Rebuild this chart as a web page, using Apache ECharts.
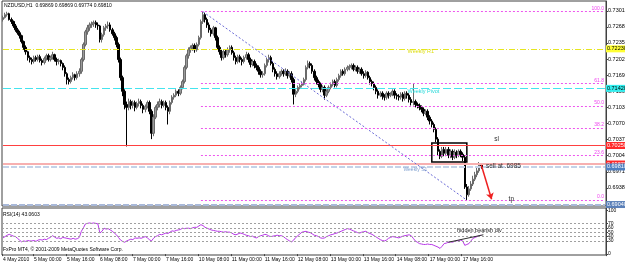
<!DOCTYPE html>
<html>
<head>
<meta charset="utf-8">
<script src="https://cdn.jsdelivr.net/npm/echarts@6/dist/echarts.min.js"></script>
<style>
html, body { margin: 0; padding: 0; background: #fff; }
#chart { width: 625px; height: 266px; }
</style>
</head>
<body>
<div id="chart"></div>
<script>
// NZDUSD H1, 4 May 2010 09:00 .. 18 May 2010 01:00
var symbolName = 'NZDUSD,H1';
var quote = [0.69869, 0.69869, 0.69774, 0.69810];   // O H L C of the last bar
var firstOpen = 0.7283;

var closes = [
    0.7287,0.7293,0.7295,0.7283,0.7279,0.7270,0.7262,0.7256,0.7250,0.7238,
    0.7226,0.7217,0.7205,0.7201,0.7197,0.7205,0.7201,0.7207,0.7199,0.7195,
    0.7203,0.7209,0.7201,0.7205,0.7211,0.7201,0.7197,0.7199,0.7193,0.7185,
    0.7172,0.7160,0.7156,0.7164,0.7170,0.7164,0.7172,0.7177,0.7201,0.7232,
    0.7258,0.7266,0.7272,0.7274,0.7277,0.7272,0.7270,0.7242,0.7252,0.7266,
    0.7270,0.7272,0.7262,0.7254,0.7246,0.7232,0.7201,0.7164,0.7136,0.7109,
    0.7103,0.7115,0.7107,0.7113,0.7103,0.7111,0.7115,0.7107,0.7099,0.7105,
    0.7113,0.7095,0.7050,0.7083,0.7103,0.7109,0.7115,0.7107,0.7113,0.7103,
    0.7095,0.7113,0.7124,0.7128,0.7136,0.7132,0.7144,0.7156,0.7185,0.7209,
    0.7221,0.7226,0.7230,0.7221,0.7232,0.7246,0.7279,0.7293,0.7283,0.7272,
    0.7262,0.7254,0.7266,0.7246,0.7226,0.7217,0.7205,0.7217,0.7211,0.7221,
    0.7226,0.7215,0.7205,0.7197,0.7207,0.7201,0.7197,0.7205,0.7211,0.7201,
    0.7191,0.7197,0.7189,0.7185,0.7177,0.7170,0.7172,0.7189,0.7201,0.7205,
    0.7193,0.7181,0.7172,0.7166,0.7172,0.7177,0.7172,0.7177,0.7168,0.7172,
    0.7160,0.7130,0.7136,0.7144,0.7148,0.7152,0.7160,0.7185,0.7193,0.7189,
    0.7177,0.7164,0.7156,0.7150,0.7140,0.7144,0.7128,0.7136,0.7144,0.7150,
    0.7156,0.7148,0.7160,0.7168,0.7177,0.7172,0.7181,0.7185,0.7187,0.7189,
    0.7181,0.7185,0.7177,0.7181,0.7172,0.7168,0.7175,0.7164,0.7156,0.7152,
    0.7144,0.7136,0.7128,0.7132,0.7126,0.7124,0.7132,0.7128,0.7130,0.7136,
    0.7128,0.7126,0.7124,0.7130,0.7121,0.7132,0.7128,0.7119,0.7113,0.7115,
    0.7109,0.7107,0.7103,0.7099,0.7091,0.7095,0.7083,0.7075,0.7068,0.7058,
    0.7038,0.7013,0.7003,0.7017,0.7009,0.7017,0.7005,0.7013,0.7001,0.7011,
    0.7005,0.7013,0.7007,0.7001,0.6940,0.6924,0.6936,0.6946,0.6956,0.6965,
    0.6973,0.6987,0.6981
];
var highs = [
    0.7291,0.7297,0.7299,0.7297,0.7287,0.7281,0.7274,0.7266,0.7260,0.7252,
    0.7240,0.7230,0.7219,0.7209,0.7205,0.7209,0.7209,0.7211,0.7211,0.7203,
    0.7207,0.7213,0.7213,0.7209,0.7217,0.7213,0.7205,0.7203,0.7201,0.7195,
    0.7189,0.7175,0.7164,0.7168,0.7175,0.7172,0.7177,0.7183,0.7205,0.7236,
    0.7262,0.7272,0.7277,0.7279,0.7281,0.7281,0.7277,0.7272,0.7256,0.7270,
    0.7274,0.7279,0.7277,0.7266,0.7258,0.7250,0.7236,0.7205,0.7168,0.7140,
    0.7115,0.7121,0.7119,0.7117,0.7117,0.7115,0.7121,0.7119,0.7111,0.7109,
    0.7117,0.7117,0.7099,0.7089,0.7107,0.7115,0.7121,0.7119,0.7117,0.7117,
    0.7107,0.7117,0.7128,0.7132,0.7140,0.7140,0.7148,0.7160,0.7189,0.7213,
    0.7226,0.7230,0.7234,0.7234,0.7236,0.7250,0.7283,0.7299,0.7297,0.7287,
    0.7277,0.7266,0.7270,0.7268,0.7250,0.7230,0.7221,0.7221,0.7221,0.7226,
    0.7230,0.7230,0.7219,0.7209,0.7211,0.7211,0.7205,0.7209,0.7217,0.7215,
    0.7205,0.7201,0.7201,0.7193,0.7189,0.7181,0.7177,0.7193,0.7205,0.7211,
    0.7209,0.7197,0.7185,0.7177,0.7177,0.7181,0.7181,0.7183,0.7181,0.7177,
    0.7177,0.7164,0.7140,0.7148,0.7152,0.7156,0.7164,0.7189,0.7199,0.7197,
    0.7193,0.7181,0.7168,0.7160,0.7154,0.7148,0.7148,0.7140,0.7148,0.7154,
    0.7160,0.7160,0.7164,0.7172,0.7181,0.7181,0.7185,0.7189,0.7191,0.7193,
    0.7193,0.7189,0.7189,0.7185,0.7185,0.7177,0.7179,0.7177,0.7168,0.7160,
    0.7156,0.7148,0.7140,0.7136,0.7136,0.7130,0.7136,0.7136,0.7134,0.7140,
    0.7140,0.7132,0.7130,0.7134,0.7134,0.7136,0.7136,0.7132,0.7124,0.7152,
    0.7119,0.7113,0.7111,0.7107,0.7103,0.7099,0.7099,0.7087,0.7079,0.7072,
    0.7062,0.7042,0.7017,0.7022,0.7022,0.7022,0.7022,0.7017,0.7017,0.7017,
    0.7015,0.7017,0.7017,0.7011,0.7005,0.6946,0.6942,0.6952,0.6963,0.6971,
    0.6979,0.6991,0.6987
];
var lows = [
    0.7279,0.7285,0.7289,0.7281,0.7274,0.7266,0.7258,0.7252,0.7244,0.7234,
    0.7221,0.7211,0.7199,0.7195,0.7191,0.7193,0.7197,0.7197,0.7195,0.7189,
    0.7191,0.7199,0.7197,0.7197,0.7201,0.7197,0.7189,0.7191,0.7187,0.7179,
    0.7166,0.7150,0.7150,0.7152,0.7160,0.7158,0.7160,0.7166,0.7172,0.7197,
    0.7228,0.7252,0.7260,0.7266,0.7268,0.7266,0.7262,0.7236,0.7236,0.7248,
    0.7260,0.7264,0.7258,0.7250,0.7240,0.7226,0.7195,0.7158,0.7126,0.7099,
    0.7023,0.7097,0.7099,0.7101,0.7095,0.7099,0.7105,0.7101,0.7091,0.7093,
    0.7101,0.7089,0.7038,0.7044,0.7079,0.7097,0.7103,0.7101,0.7103,0.7097,
    0.7068,0.7089,0.7109,0.7119,0.7124,0.7126,0.7128,0.7140,0.7152,0.7181,
    0.7203,0.7215,0.7219,0.7215,0.7217,0.7228,0.7242,0.7274,0.7277,0.7266,
    0.7256,0.7248,0.7250,0.7240,0.7221,0.7211,0.7199,0.7201,0.7205,0.7207,
    0.7215,0.7211,0.7199,0.7191,0.7193,0.7195,0.7189,0.7193,0.7201,0.7195,
    0.7185,0.7187,0.7183,0.7179,0.7170,0.7164,0.7164,0.7168,0.7185,0.7195,
    0.7189,0.7175,0.7166,0.7160,0.7162,0.7168,0.7166,0.7168,0.7162,0.7164,
    0.7154,0.7109,0.7124,0.7132,0.7140,0.7144,0.7148,0.7156,0.7181,0.7183,
    0.7172,0.7158,0.7150,0.7144,0.7134,0.7134,0.7119,0.7124,0.7132,0.7140,
    0.7146,0.7144,0.7144,0.7156,0.7164,0.7168,0.7168,0.7177,0.7179,0.7181,
    0.7177,0.7177,0.7172,0.7172,0.7168,0.7162,0.7164,0.7160,0.7150,0.7146,
    0.7138,0.7130,0.7121,0.7124,0.7119,0.7117,0.7119,0.7121,0.7124,0.7126,
    0.7121,0.7119,0.7117,0.7119,0.7115,0.7117,0.7121,0.7113,0.7107,0.7107,
    0.7103,0.7101,0.7097,0.7093,0.7085,0.7087,0.7077,0.7068,0.7062,0.7052,
    0.7032,0.7005,0.6997,0.6999,0.7003,0.7003,0.6999,0.6999,0.6995,0.6997,
    0.6999,0.7001,0.7001,0.6993,0.6936,0.6913,0.6920,0.6932,0.6942,0.6952,
    0.6960,0.6969,0.6977
];

// RSI(14), one value per bar
var rsiReading = 43.0603;
var rsi = [
    37,40,43,45,43,41,40,36,32,28,
    30,29,31,30,30,31,29,32,33,32,
    34,33,36,38,42,39,36,37,35,38,
    37,36,35,34,36,34,35,38,52,60,
    69,70,71,70,71,70,69,48,52,59,
    57,58,55,52,48,44,38,32,29,27,
    30,32,34,33,37,36,37,36,38,40,
    37,33,30,36,40,42,45,44,46,48,
    47,50,53,52,54,55,56,59,58,59,
    59,58,60,61,61,64,67,65,61,59,
    57,55,54,53,52,52,51,50,51,50,
    50,48,45,44,46,48,47,45,43,42,
    40,41,38,37,40,42,43,45,44,41,
    40,41,42,43,42,42,40,36,33,30,
    28,32,38,42,46,50,51,52,50,49,
    46,43,42,40,37,36,37,40,42,44,
    45,47,48,50,52,54,56,58,57,55,
    53,51,49,48,50,51,52,49,47,45,
    42,39,36,33,31,30,32,36,38,40,
    39,38,37,39,41,42,43,44,42,36,
    30,27,24,23,22,22,23,22,22,20,
    18,16,13,18,24,25,27,28,27,29,
    30,31,32,30,20,22,24,30,36,38,
    40,42,43
];

// axis tick labels
var priceTicks = [0.6905, 0.6938, 0.6971, 0.7004, 0.7037, 0.7070, 0.7103,
                  0.7136, 0.7169, 0.7202, 0.7235, 0.7268, 0.7301];
var rsiTicks = [0, 30, 40, 50, 60, 70, 100];
var rsiLevels = [30, 40, 50, 60, 70];
var dateTicks = ['4 May 2010', '5 May 00:00', '5 May 16:00', '6 May 08:00', '7 May 00:00',
                 '7 May 16:00', '10 May 08:00', '11 May 00:00', '11 May 16:00', '12 May 08:00',
                 '13 May 00:00', '13 May 16:00', '14 May 08:00', '17 May 00:00', '17 May 16:00'];
var firstTickBar = 15, tickStep = 16, emptyBarsRight = 60;

// drawn objects
var fibHigh = 0.7299, fibLow = 0.6913, fibFromBar = 96, fibToBar = 225;
var fibLevels = [0, 23.6, 38.2, 50, 61.8, 100];
var weeklyR1 = 0.7223, weeklyPivot = 0.7142, weeklyS1 = 0.6981, weeklyS2 = 0.6904;
var stopLoss = 0.7025, sellAt = 0.6987;
var boxBars = [208, 225], boxPrices = [0.7030, 0.6991];
var arrowBars = [232, 237], arrowPrices = [0.6985, 0.6915];
var divBars = [216, 233], divRsi = [27, 44];

var FONT = 'Liberation Sans';
</script>
<script>
(function () {
    "use strict";

    var nBars = closes.length;
    var nSlots = nBars + emptyBarsRight;

    var candles = [];
    for (var i = 0; i < nBars; i++) {
        var open = i === 0 ? firstOpen : closes[i - 1];
        candles.push([open, closes[i], lows[i], highs[i]]);
    }
    candles[nBars - 1] = [quote[0], quote[3], quote[2], quote[1]];

    var cats = [];
    for (i = 0; i < nSlots; i++) cats.push(String(i));
    var tickAt = {};
    tickAt[0] = dateTicks[0];
    for (var k = 1; k < dateTicks.length; k++) {
        tickAt[firstTickBar + (k - 1) * tickStep] = dateTicks[k];
    }
    function hasTick(index) { return tickAt[index] !== undefined; }

    // horizontal lines across the whole chart, with their price box on the axis
    function hLine(price, color, type, width, boxColor, boxText) {
        return [{
            coord: [0, price],
            lineStyle: { color: color, type: type, width: width },
            label: {
                show: true, position: 'end', distance: 1,
                formatter: price.toFixed(5),
                fontSize: 5.5, fontFamily: FONT, color: boxText,
                backgroundColor: boxColor, padding: [1, 2, 0, 1]
            }
        }, { coord: [nSlots - 1, price] }];
    }

    var fibLines = fibLevels.map(function (lv) {
        var p = fibLow + (fibHigh - fibLow) * lv / 100;
        return [{
            coord: [fibFromBar, p],
            lineStyle: { color: '#ee55ee', type: [2, 2], width: 1 },
            label: {
                show: true, position: 'insideEndTop', distance: 1,
                formatter: lv.toFixed(1),
                fontSize: 5, fontFamily: FONT, color: '#ee44ee'
            }
        }, { coord: [nSlots - 1, p] }];
    });

    function note(bar, price, text, color, size) {
        return {
            coord: [bar, price], symbol: 'circle', symbolSize: 1,
            itemStyle: { color: 'rgba(0,0,0,0)' },
            label: {
                show: true, position: 'right', distance: 0, formatter: text,
                fontSize: size, fontFamily: FONT, color: color
            }
        };
    }

    var chart = echarts.init(document.getElementById('chart'));

    var option = {
        animation: false,
        backgroundColor: '#ffffff',
        textStyle: { fontFamily: FONT },

        grid: [
            { left: 2, right: 19, top: 1, height: 205, show: true, outerBoundsMode: 'none',
              borderColor: '#404040', borderWidth: 1, backgroundColor: '#ffffff' },
            { left: 2, right: 19, top: 208, height: 47, show: true, outerBoundsMode: 'none',
              borderColor: '#404040', borderWidth: 1, backgroundColor: '#ffffff' }
        ],

        xAxis: [
            { type: 'category', gridIndex: 0, data: cats, boundaryGap: true,
              axisLine: { show: false }, axisTick: { show: false },
              axisLabel: { show: false }, splitLine: { show: false } },
            { type: 'category', gridIndex: 1, data: cats, boundaryGap: true,
              axisLine: { show: false },
              axisTick: { show: true, interval: hasTick, length: 2,
                          lineStyle: { color: '#404040' } },
              axisLabel: { show: true, interval: hasTick, align: 'left', margin: 2,
                           fontSize: 5, fontFamily: FONT, color: '#000',
                           formatter: function (v, idx) { return tickAt[idx] || ''; } },
              splitLine: { show: false } }
        ],

        yAxis: [
            { type: 'value', gridIndex: 0, position: 'right', min: 0.6901, max: 0.7321,
              axisLine: { show: true, lineStyle: { color: '#404040' } },
              axisTick: { show: true, length: 2, customValues: priceTicks,
                          lineStyle: { color: '#404040' } },
              axisLabel: { show: true, margin: 2, customValues: priceTicks,
                           fontSize: 5.5, fontFamily: FONT, color: '#000',
                           formatter: function (v) { return v.toFixed(5); } },
              splitLine: { show: false } },
            { type: 'value', gridIndex: 1, position: 'right', min: -2, max: 105,
              axisLine: { show: true, lineStyle: { color: '#404040' } },
              axisTick: { show: true, length: 2, customValues: rsiTicks,
                          lineStyle: { color: '#404040' } },
              axisLabel: { show: true, margin: 2, customValues: rsiTicks,
                           fontSize: 5, fontFamily: FONT, color: '#000' },
              splitLine: { show: false } }
        ],

        graphic: [
            { type: 'text', left: 4, top: 3, silent: true,
              style: { text: symbolName + '  ' + quote.map(function (q) { return q.toFixed(5); }).join(' '),
                       font: '5px ' + FONT, fill: '#000' } },
            { type: 'text', left: 3, top: 212, silent: true,
              style: { text: 'RSI(14) ' + rsiReading.toFixed(4), font: '5px ' + FONT, fill: '#000' } },
            { type: 'text', left: 3, top: 247, silent: true,
              style: { text: 'FxPro MT4, \u00a9 2001-2009 MetaQuotes Software Corp.',
                       font: '5px ' + FONT, fill: '#000' } }
        ],

        series: [
            {
                name: symbolName,
                type: 'candlestick',
                xAxisIndex: 0, yAxisIndex: 0,
                data: candles,
                barWidth: 2,
                itemStyle: {
                    color: '#9a9a9a', borderColor: '#6a6a6a',
                    color0: '#000000', borderColor0: '#000000', borderWidth: 1
                },
                markLine: {
                    silent: true, symbol: ['none', 'none'],
                    data: [
                        hLine(weeklyS2, '#a8b8d8', [6, 2], 2, '#5a7fb8', '#fff'),
                        hLine(weeklyR1, '#e6e620', [6, 2, 1, 2], 1, '#ffff33', '#000'),
                        hLine(weeklyPivot, '#44e4ee', [8, 3], 1, '#33eeee', '#000'),
                        hLine(stopLoss, '#ff4040', 'solid', 1, '#ff2a2a', '#fff'),
                        hLine(sellAt, '#f7b0b0', 'solid', 2, '#ff2a2a', '#fff'),
                        hLine(weeklyS1, '#c4d2e8', [6, 2], 2, '#4f7fc0', '#fff'),
                        [{ coord: [fibFromBar + 1, fibHigh],
                           lineStyle: { color: '#6a6ad6', type: [2, 2], width: 1 } },
                         { coord: [fibToBar, fibLow] }],
                        [{ coord: [arrowBars[0], arrowPrices[0]], symbol: 'none',
                           lineStyle: { color: '#ee2020', type: 'solid', width: 1.5 } },
                         { coord: [arrowBars[1], arrowPrices[1]], symbol: 'arrow', symbolSize: 6 }]
                    ].concat(fibLines)
                },
                markArea: {
                    silent: true,
                    itemStyle: { color: 'rgba(0,0,0,0)', borderColor: '#000', borderWidth: 1.5 },
                    data: [[{ coord: [boxBars[0], boxPrices[0]] }, { coord: [boxBars[1], boxPrices[1]] }]]
                },
                markPoint: {
                    silent: true,
                    data: [
                        note(196, 0.7218, 'Weekly R1', '#dede10', 5.5),
                        note(196, 0.7135, 'Weekly Pivot', '#22d8d8', 5.5),
                        note(194, 0.6976, 'Weekly S1', '#7f9fcf', 5),
                        note(238, 0.7037, 'sl', '#303030', 6.5),
                        note(234, 0.6983, 'sell at .6985', '#303030', 6.5),
                        note(245, 0.6915, 'tp', '#303030', 6.5)
                    ]
                }
            },
            {
                name: 'RSI(14)',
                type: 'line',
                xAxisIndex: 1, yAxisIndex: 1,
                data: rsi,
                showSymbol: false,
                lineStyle: { color: '#b838e8', width: 1 },
                markLine: {
                    silent: true, symbol: ['none', 'none'],
                    data: rsiLevels.map(function (lv) {
                        return { yAxis: lv, label: { show: false },
                                 lineStyle: { color: '#a0a0a0', type: [2, 2], width: 1 } };
                    }).concat([
                        [{ coord: [divBars[0], divRsi[0]], label: { show: false },
                           lineStyle: { color: '#303030', type: 'solid', width: 1 } },
                         { coord: [divBars[1], divRsi[1]] }]
                    ])
                },
                markPoint: {
                    silent: true,
                    data: [note(220, 54, 'hidden bearish div', '#202020', 5.5)]
                }
            }
        ]
    };

    chart.setOption(option);
})();
</script>
</body>
</html>
